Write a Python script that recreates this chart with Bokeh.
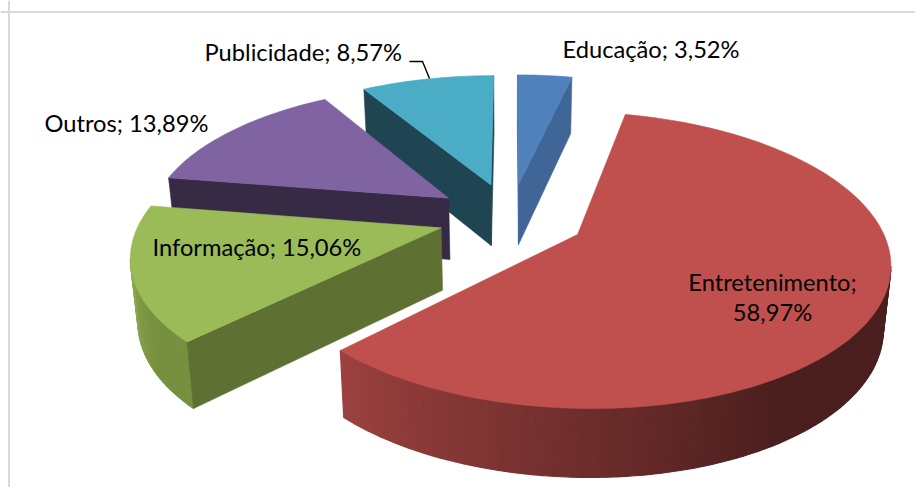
import numpy as np
from bokeh.plotting import figure
from bokeh.models import Span
from bokeh.embed import file_html
from bokeh.resources import INLINE
from bokeh.core.properties import value

categories = ["Educação", "Entretenimento", "Informação", "Outros", "Publicidade"]
shares = [3.52, 58.97, 15.06, 13.89, 8.57]
explode = [0.255, 0.25, 0.24, 0.255, 0.255]
top_colors = ["#4F81BD", "#C0504D", "#9BBB59", "#8064A2", "#4BACC6"]
cut_colors = ["#3F6696", "#8A3A38", "#5E7133", "#372A45", "#1E4551"]
wall_light = ["#4F81BD", "#9C413F", "#8CA850", "#6C5489", "#3F91A7"]
wall_dark = ["#3F6696", "#4B1F1E", "#77903F", "#4C3B62", "#2D6A7A"]
draw_order = [0, 4, 3, 2, 1]

label_text = ["Educação; 3,52%", "Entretenimento;", "58,97%", "Informação; 15,06%", "Outros; 13,89%", "Publicidade; 8,57%"]
label_x = [562, 772, 772, 152, 44, 204]
label_y = [48.5, 281, 311, 246.5, 122.5, 51.5]
label_align = ["left", "center", "center", "left", "left", "left"]

CX, CY, S, K, P, H, SHRINK, DARK_AT = 510, 217, 300, 138, 0.17, 62, 0.02, 0.62


def proj(x, d, z=0.0):
    x, d = np.asarray(x, float), np.asarray(d, float)
    w = 1 + P * d
    return CX + S * x / w * (1 - SHRINK * z), CY - K * d / w + z * H / np.sqrt(w)


def hex_mix(a, b, t):
    ca = [int(a[i:i + 2], 16) for i in (1, 3, 5)]
    cb = [int(b[i:i + 2], 16) for i in (1, 3, 5)]
    return "#%02x%02x%02x" % tuple(round(u + (v - u) * t) for u, v in zip(ca, cb))


def area(xs, ys):
    return 0.5 * sum(xs[i] * ys[(i + 1) % len(xs)] - xs[(i + 1) % len(xs)] * ys[i] for i in range(len(xs)))


p = figure(width=915, height=487, x_range=(0, 915), y_range=(487, 0), output_backend="svg",
           toolbar_location=None, min_border=0, outline_line_color=None, background_fill_color="white")
p.axis.visible = False
p.grid.visible = False

p.add_layout(Span(location=8.5, dimension="height", line_color="#D9D9D9", line_width=2))
p.add_layout(Span(location=11.5, dimension="width", line_color="#D9D9D9", line_width=2))

edges = np.cumsum([0] + shares) / sum(shares) * 2 * np.pi
for i in draw_order:
    a0, a1 = edges[i], edges[i + 1]
    mid = (a0 + a1) / 2
    ox, od = explode[i] * np.sin(mid), explode[i] * np.cos(mid)
    ang = np.linspace(a0, a1, max(8, int((a1 - a0) * 40)))
    rx, rd = ox + np.sin(ang), od + np.cos(ang)

    # outer wall
    tx, ty = proj(rx, rd, 0)
    bx, by = proj(rx, rd, 1)
    idx = [j for j in range(len(ang) - 1) if tx[j + 1] < tx[j]]
    if idx:
        first, last = ang[idx[0]], ang[idx[-1]]
        xs, ys, cs = [], [], []
        for j in idx:
            t = min(1.0, (last - ang[j]) / max(last - first, 1e-6) / DARK_AT)
            cs.append(hex_mix(wall_light[i], wall_dark[i], float(t)))
            xs.append([tx[j], tx[j + 1], bx[j + 1], bx[j]])
            ys.append([ty[j], ty[j + 1], by[j + 1], by[j]])
        p.patches(xs, ys, fill_color=cs, line_color=cs, line_width=1.2)

    # cut faces
    ax0, ay0 = proj(ox, od, 0)
    ax1, ay1 = proj(ox, od, 1)
    for k, sign in ((0, -1), (-1, 1)):
        fx = [float(ax0), float(tx[k]), float(bx[k]), float(ax1)]
        fy = [float(ay0), float(ty[k]), float(by[k]), float(ay1)]
        if area(fx, fy) * sign > 0:
            p.patch(fx, fy, fill_color=cut_colors[i], line_color=cut_colors[i], line_width=0.6)

    # top
    p.patch([float(ax0)] + list(tx), [float(ay0)] + list(ty), fill_color=top_colors[i],
            line_color=top_colors[i], line_width=0.6)

# leader line of the Publicidade label
lead_x = [409, 422, 429]
lead_y = [61, 61, 78]
p.line(lead_x, lead_y, line_color="black", line_width=1.4)

for tx_, x_, y_, al in zip(label_text, label_x, label_y, label_align):
    p.text([x_], [y_], text=[tx_], text_font=value("Lato"), text_font_size="23.7px", text_color="black",
           text_align=al, text_baseline="middle")

open("out.html", "w").write(file_html(p, INLINE))
